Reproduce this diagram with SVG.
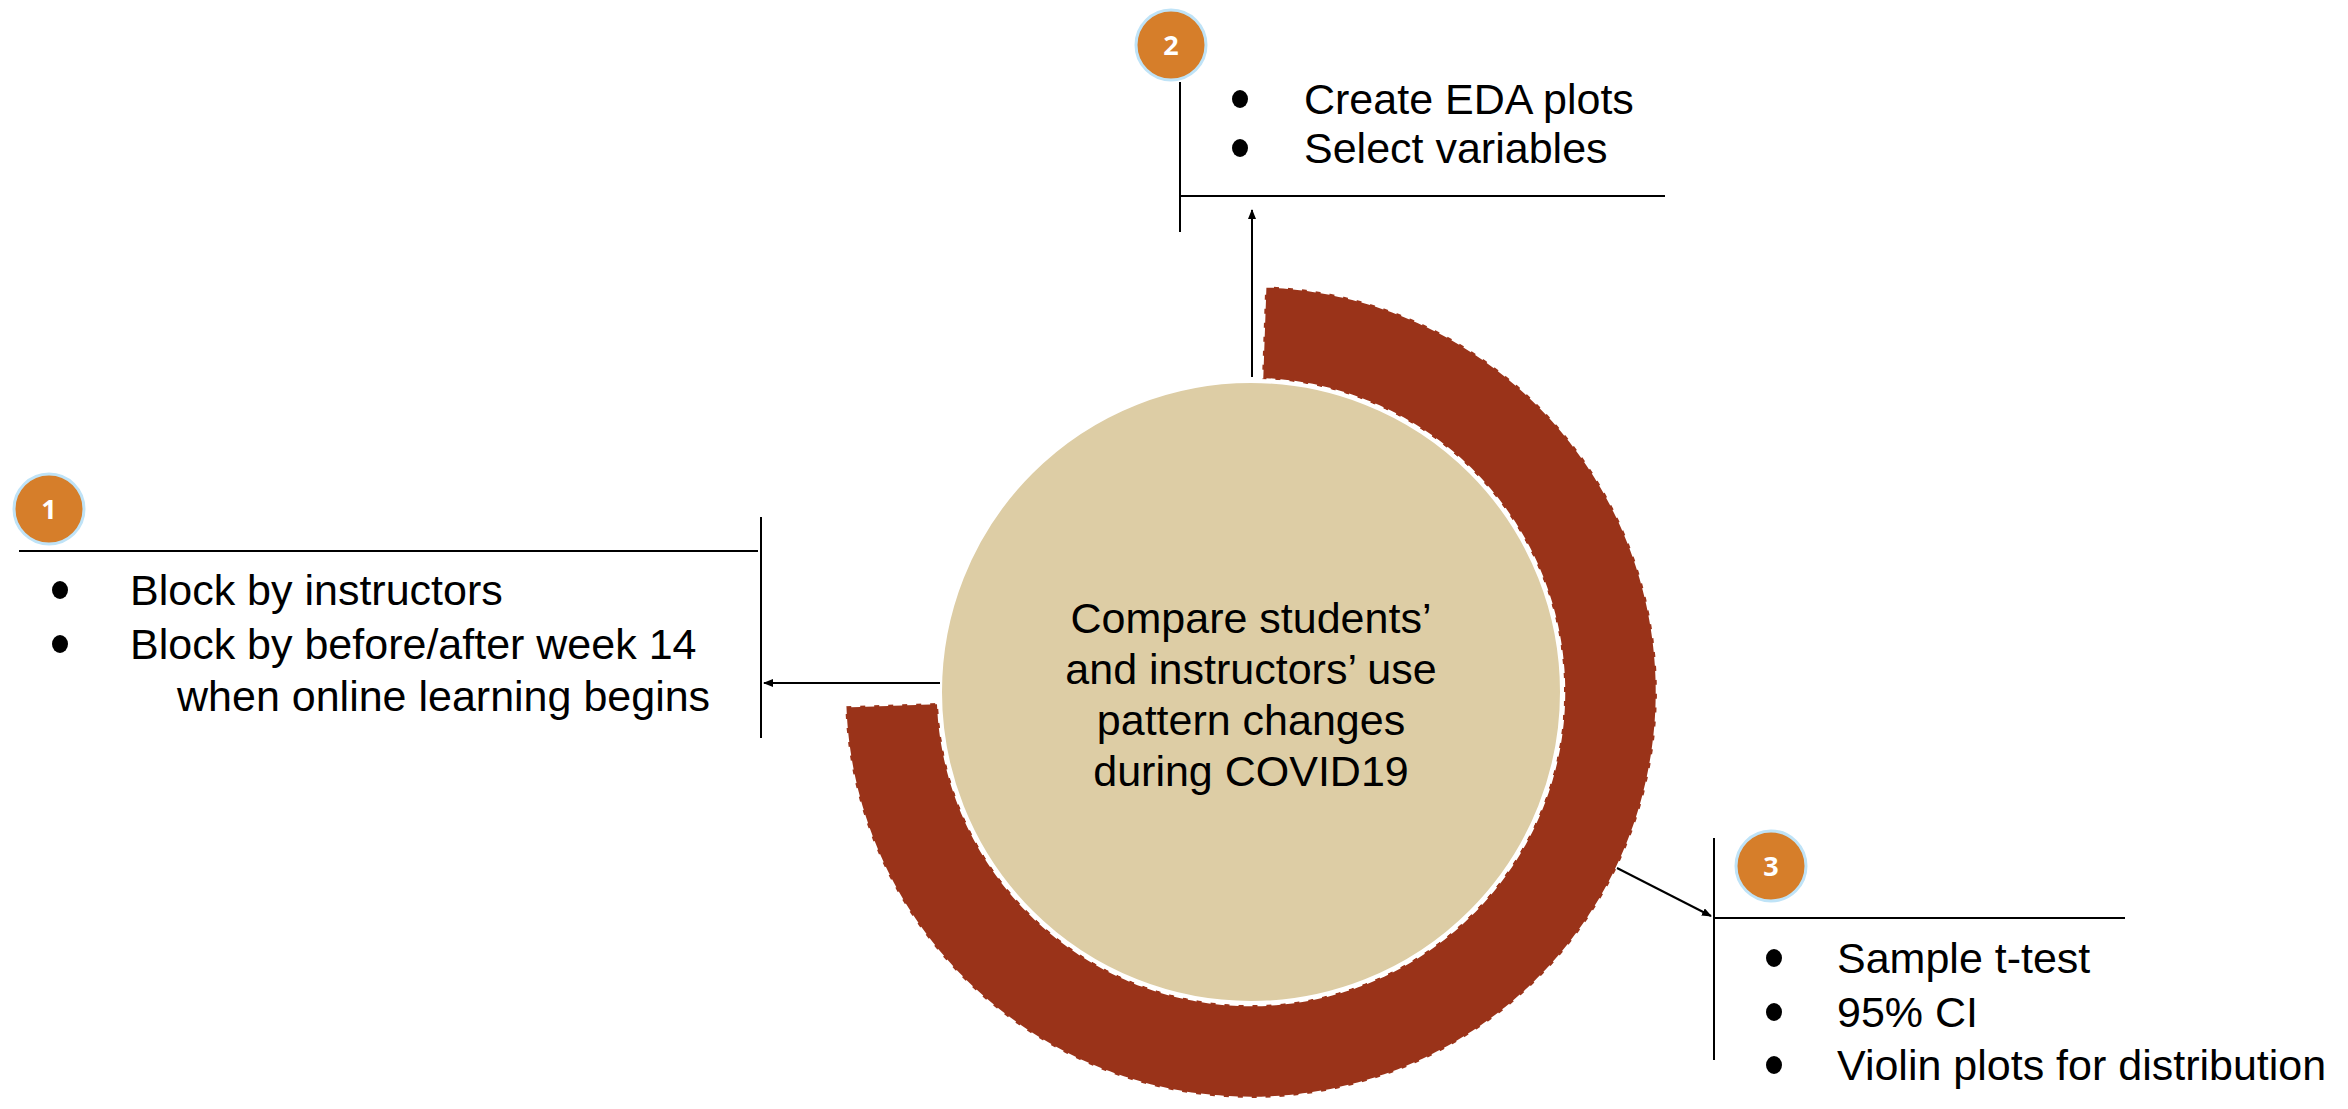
<svg xmlns="http://www.w3.org/2000/svg" width="2348" height="1109" viewBox="0 0 2348 1109">
<style>
.t{font-family:"Liberation Sans",Arial,sans-serif;font-size:43px;fill:#000}
.ln{stroke:#000;stroke-width:2;fill:none}
.badge{fill:#D67E2A;stroke:#BFE3F7;stroke-width:3}
.num{font-family:"Open Sans","Liberation Sans",sans-serif;font-weight:bold;font-size:27px;fill:#fff;text-anchor:middle}
.dot{fill:#000}
</style>
<defs>
<marker id="ah" markerWidth="10" markerHeight="8" refX="9" refY="4" orient="auto" markerUnits="userSpaceOnUse">
<path d="M0,0 L10,4 L0,8 z" fill="#000"/>
</marker>
</defs>
<rect width="2348" height="1109" fill="#fff"/>
<g id="center">
<path d="M1265.2,286.2 A406,406 0 1 1 845.2,706.2 L938.2,703 A313,313 0 1 0 1262,379.2 Z" fill="#9A3319" stroke="#fff" stroke-width="2.5" stroke-dasharray="9 5"/>
<circle cx="1251" cy="692" r="311" fill="#DDCDA5" stroke="#fff" stroke-width="4"/>
<text class="t" text-anchor="middle"><tspan x="1251" y="633">Compare students’</tspan><tspan x="1251" y="684">and instructors’ use</tspan><tspan x="1251" y="735">pattern changes</tspan><tspan x="1251" y="786">during COVID19</tspan></text>
</g>
<g id="connectors">
<line class="ln" x1="940" y1="683" x2="764" y2="683" marker-end="url(#ah)"/>
<line class="ln" x1="1252" y1="377" x2="1252" y2="210" marker-end="url(#ah)"/>
<line class="ln" x1="1617" y1="868" x2="1711" y2="916" marker-end="url(#ah)"/>
</g>
<g id="step1">
<line class="ln" x1="19" y1="551" x2="758" y2="551"/>
<line class="ln" x1="761" y1="517" x2="761" y2="738"/>
<circle class="badge" cx="49" cy="509" r="35"/>
<text class="num" x="49" y="519">1</text>
<ellipse class="dot" cx="60" cy="590" rx="8" ry="9"/>
<ellipse class="dot" cx="60" cy="644" rx="8" ry="9"/>
<text class="t" x="130" y="605">Block by instructors</text>
<text class="t" x="130" y="659">Block by before/after week 14</text>
<text class="t" x="177" y="711">when online learning begins</text>
</g>
<g id="step2">
<line class="ln" x1="1180" y1="82" x2="1180" y2="232"/>
<line class="ln" x1="1180" y1="196" x2="1665" y2="196"/>
<circle class="badge" cx="1171" cy="45" r="35"/>
<text class="num" x="1171" y="55">2</text>
<ellipse class="dot" cx="1240" cy="99" rx="8" ry="9"/>
<ellipse class="dot" cx="1240" cy="148" rx="8" ry="9"/>
<text class="t" x="1304" y="114">Create EDA plots</text>
<text class="t" x="1304" y="163">Select variables</text>
</g>
<g id="step3">
<line class="ln" x1="1714" y1="838" x2="1714" y2="1060"/>
<line class="ln" x1="1714" y1="918" x2="2125" y2="918"/>
<circle class="badge" cx="1771" cy="866" r="35"/>
<text class="num" x="1771" y="876">3</text>
<ellipse class="dot" cx="1774" cy="958" rx="8" ry="9"/>
<ellipse class="dot" cx="1774" cy="1012" rx="8" ry="9"/>
<ellipse class="dot" cx="1774" cy="1065" rx="8" ry="9"/>
<text class="t" x="1837" y="973">Sample t-test</text>
<text class="t" x="1837" y="1027">95% CI</text>
<text class="t" x="1837" y="1080">Violin plots for distribution</text>
</g>
</svg>
